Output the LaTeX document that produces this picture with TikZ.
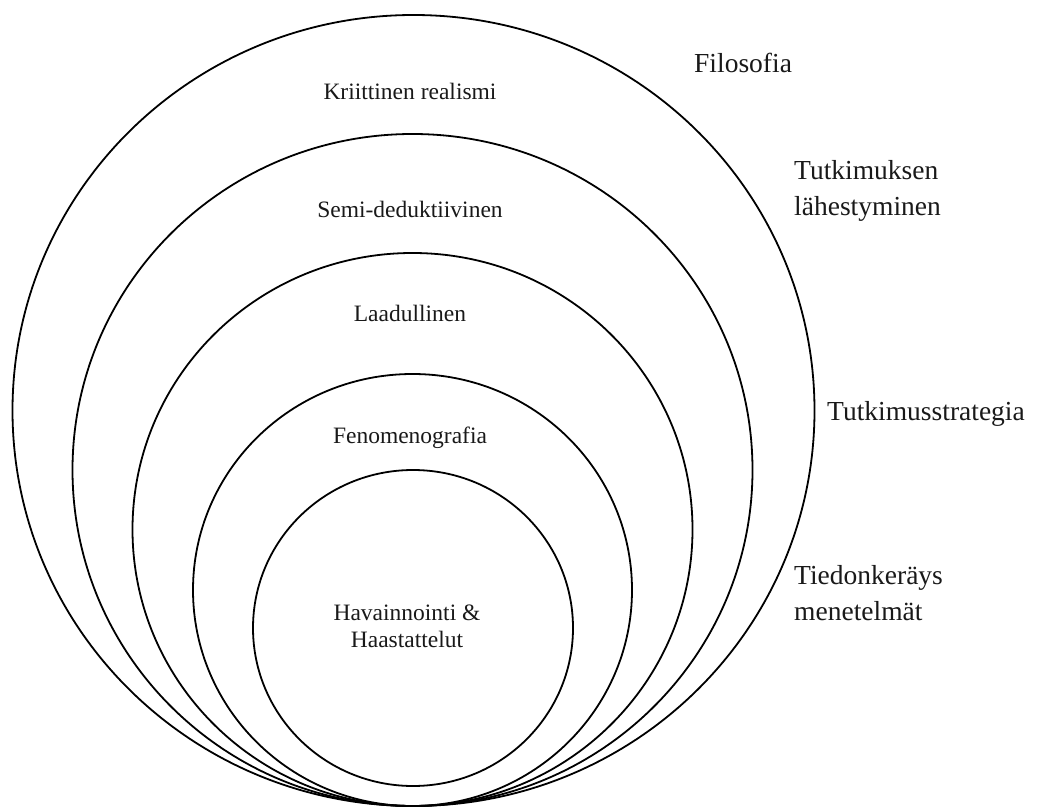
\documentclass[tikz,border=0pt]{standalone}
\usepackage{fontspec}
\setmainfont{Liberation Serif}
\usepackage{tikz}
\usetikzlibrary{calc}

\begin{document}
\begin{tikzpicture}[
          x=1pt, y=-1pt,
          ring/.style={draw=black, line width=1.8pt},
          inner/.style={anchor=base, text=black!90, inner sep=0pt,
                        font=\fontsize{23.5}{27}\selectfont},
          layer/.style={anchor=base west, text=black!90, inner sep=0pt,
                        align=left, font=\fontsize{27.5}{36}\selectfont}
        ]
          \useasboundingbox (0,0) rectangle (1041,810);
          \draw[ring] (413.5,410.5) ellipse [x radius=401pt, y radius=395.5pt];
          \draw[ring] (412.5,470)   ellipse [x radius=340pt, y radius=336pt];
          \draw[ring] (412.5,529.5) ellipse [x radius=280pt, y radius=276.5pt];
          \draw[ring] (412.5,590)   ellipse [x radius=219.5pt, y radius=216pt];
          \draw[ring] (413,628)     ellipse [x radius=160pt, y radius=158pt];
          \node[inner] (krit) at (410,100) {Kriittinen realismi};
          \node[inner] (semi) at (410,218) {Semi-deduktiivinen};
          \node[inner] (laad) at (410,321) {Laadullinen};
          \node[inner] (feno) at (410,443) {Fenomenografia};
          \node[inner] (hav)  at (407,620) {Havainnointi \&};
          \node[inner] (haas) at (407,647) {Haastattelut};
          \node[layer] (filo) at (694,73)  {Filosofia};
          \node[layer] (lah)  at (794,216) {Tutkimuksen\\lähestyminen};
          \node[layer] (str)  at (827,420) {Tutkimusstrategia};
          \node[layer] (tied) at (794,620) {Tiedonkeräys\\menetelmät};
        \end{tikzpicture}
\end{document}
